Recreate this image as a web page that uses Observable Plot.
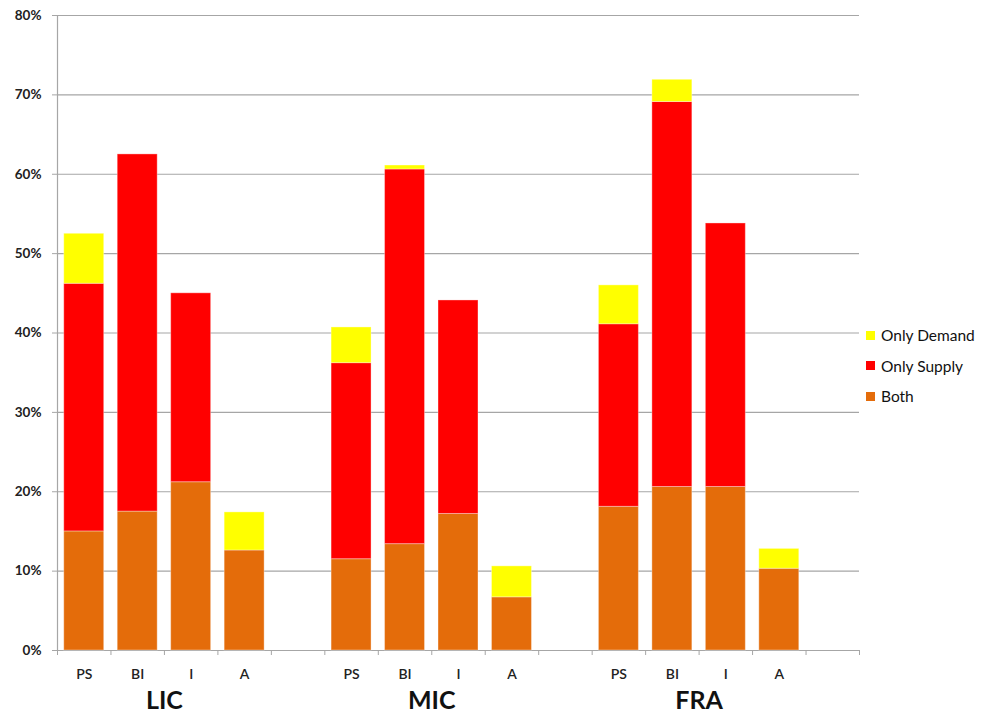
<!DOCTYPE html>
<html><head><meta charset="utf-8">
<script src="https://cdn.jsdelivr.net/npm/d3@7"></script>
<script src="https://cdn.jsdelivr.net/npm/@observablehq/plot@0.6"></script>
<style>
body{margin:0;background:#fff;font-family:Lato, sans-serif;}
#wrap{position:relative;width:981px;height:721px;}
#legend{position:absolute;left:866px;top:320px;font:15.5px Lato, sans-serif;color:#111;}
.row{display:flex;align-items:center;height:30.5px;white-space:nowrap;}
.sw{width:9px;height:9px;margin-right:6px;flex:none;}
</style></head><body><div id="wrap"></div>
<script>
const groups = ["LIC", "MIC", "FRA"];
const categories = ["PS", "BI", "I", "A"];
const seriesNames = ["Both", "Only Supply", "Only Demand"];
const seriesColors = ["#E46C0A", "#FF0000", "#FFFF00"];
// values in %, ordered LIC(PS,BI,I,A), MIC(...), FRA(...)
const both        = [15.0, 17.5, 21.2, 12.6,  11.5, 13.4, 17.2, 6.7,  18.1, 20.6, 20.6, 10.3];
const onlySupply  = [31.2, 45.0, 23.8, 0.0,   24.7, 47.2, 26.9, 0.0,  23.0, 48.5, 33.2, 0.0];
const onlyDemand  = [6.3,  0.0,  0.0,  4.8,   4.5,  0.5,  0.0,  3.9,  4.9,  2.8,  0.0,  2.5];
const yTicks = [0, 10, 20, 30, 40, 50, 60, 70, 80];

const slotsPerGroup = categories.length + 1;
const nSlots = groups.length * slotsPerGroup;
const seriesValues = [both, onlySupply, onlyDemand];

const rows = [];
const catLabels = [];
const groupLabels = [];
groups.forEach((g, gi) => {
  categories.forEach((c, ci) => {
    const idx = gi * categories.length + ci;
    const slot = gi * slotsPerGroup + ci;
    catLabels.push({slot, label: c});
    let acc = 0;
    seriesNames.forEach((s, si) => {
      const v = seriesValues[si][idx];
      rows.push({group: g, cat: c, slot, series: s, y1: acc, y2: acc + v});
      acc += v;
    });
  });
  groupLabels.push({label: g, pos: gi * slotsPerGroup + categories.length / 2});
});

const grid = "#a6a6a6";
const chart = Plot.plot({
  width: 981,
  height: 721,
  marginLeft: 57,
  marginRight: 122,
  marginTop: 15,
  marginBottom: 71,
  style: {fontFamily: "Lato, sans-serif", background: "#fff", overflow: "visible"},
  x: {domain: [0, nSlots], axis: null, label: null},
  y: {domain: [0, 80], axis: null, label: null},
  color: {domain: seriesNames, range: seriesColors},
  marks: [
    Plot.ruleY(yTicks, {stroke: grid, strokeWidth: 1.2}),
    Plot.ruleX([0], {y1: 0, y2: 80, stroke: grid, strokeWidth: 1.2}),
    Plot.axisY({ticks: yTicks, tickFormat: d => d + "%", tickSize: 5, tickPadding: 11,
      stroke: grid, fill: "#222", fontSize: 13.5, fontWeight: "bold", label: null}),
    Plot.axisX({ticks: d3.range(0, nSlots + 1), tickFormat: () => "", tickSize: 5, stroke: grid, label: null}),
    Plot.rect(rows.filter(d => d.y2 > d.y1), {
      x1: d => d.slot, x2: d => d.slot + 1, y1: "y1", y2: "y2",
      fill: "series", insetLeft: 6.75, insetRight: 6.75,
      stroke: "#fff", strokeOpacity: 0.35, strokeWidth: 1
    }),
    Plot.text(catLabels, {x: d => d.slot + 0.5, frameAnchor: "bottom", dy: 28,
      text: "label", fontSize: 14, fontWeight: 600, fill: "#222"}),
    Plot.text(groupLabels, {x: "pos", frameAnchor: "bottom", dy: 58,
      text: "label", fontSize: 25, fontWeight: "bold", fill: "#111"})
  ]
});
const wrap = document.getElementById("wrap");
wrap.appendChild(chart);

const legend = document.createElement("div");
legend.id = "legend";
[2, 1, 0].forEach(i => {
  const row = document.createElement("div");
  row.className = "row";
  const sw = document.createElement("span");
  sw.className = "sw";
  sw.style.background = seriesColors[i];
  const t = document.createElement("span");
  t.textContent = seriesNames[i];
  row.appendChild(sw);
  row.appendChild(t);
  legend.appendChild(row);
});
wrap.appendChild(legend);
</script></body></html>
